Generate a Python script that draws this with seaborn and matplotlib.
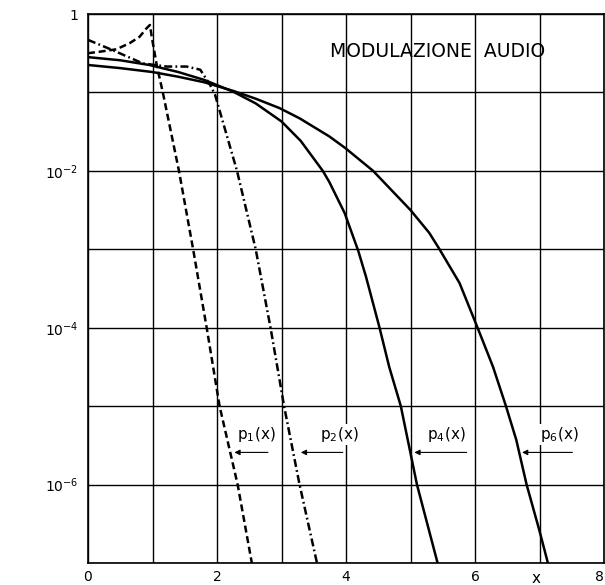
import numpy as np
import pandas as pd
import matplotlib
matplotlib.use("Agg")
import matplotlib.pyplot as plt
import seaborn as sns

# ---- data (y given as log10 exponents) ----
p1_x = [0.0, 0.19, 0.44, 0.65, 0.80, 0.91, 0.96, 0.99, 1.07, 1.16, 1.41, 1.63, 1.84, 2.04, 2.32, 2.54]
p1_e = [-0.50, -0.48, -0.45, -0.37, -0.29, -0.18, -0.14, -0.30, -0.67, -1.0, -2.0, -3.0, -4.0, -5.0, -6.0, -7.0]

p2_x = [0.0, 0.38, 0.85, 1.22, 1.53, 1.74, 1.89, 1.97, 2.31, 2.60, 2.83, 3.04, 3.28, 3.55]
p2_e = [-0.33, -0.46, -0.63, -0.67, -0.67, -0.71, -0.90, -1.03, -2.0, -3.0, -4.0, -5.0, -6.0, -7.0]

p4_x = [0.0, 0.5, 0.95, 1.4, 1.8, 2.25, 2.6, 3.0, 3.3, 3.64, 3.74, 3.98, 4.19, 4.31, 4.52, 4.67, 4.85, 5.10, 5.42]
p4_e = [-0.55, -0.59, -0.65, -0.74, -0.84, -0.99, -1.14, -1.37, -1.62, -2.0, -2.14, -2.54, -3.02, -3.35, -4.0, -4.5, -5.0, -6.0, -7.0]

p6_x = [0.0, 0.5, 1.0, 1.4, 1.8, 2.25, 2.6, 2.97, 3.28, 3.74, 3.99, 4.42, 5.0, 5.29, 5.45, 5.76, 6.04, 6.28, 6.48, 6.64, 6.80, 7.0, 7.13]
p6_e = [-0.65, -0.69, -0.74, -0.80, -0.87, -0.98, -1.08, -1.20, -1.33, -1.56, -1.71, -2.0, -2.5, -2.79, -3.0, -3.43, -4.0, -4.5, -5.0, -5.43, -6.0, -6.59, -7.0]

curve_labels = ["p$_1$(x)", "p$_2$(x)", "p$_4$(x)", "p$_6$(x)"]
label_x = [2.31, 3.59, 5.26, 7.0]
arrow_from = [2.79, 3.95, 5.87, 7.51]
arrow_to = [2.27, 3.30, 5.06, 6.73]

y_tick_vals = [1e0, 1e-1, 1e-2, 1e-3, 1e-4, 1e-5, 1e-6, 1e-7]
y_tick_labels = ["1", "", "$10^{-2}$", "", "$10^{-4}$", "", "$10^{-6}$", ""]
x_tick_vals = [0, 1, 2, 3, 4, 5, 6, 7, 8]
x_tick_labels = ["0", "", "2", "", "4", "", "6", "", "8"]
title_text = "MODULAZIONE  AUDIO"

sns.set_style("white")
plt.rcParams["font.family"] = ["DejaVu Sans"]
plt.rcParams["mathtext.default"] = "regular"
plt.rcParams["text.color"] = "black"

fig = plt.figure(figsize=(6.05, 5.85), dpi=100)
W, H = 605, 585
ax = fig.add_axes([88 / W, 22 / H, 516 / W, 549 / H])

def draw(xs, es, dashes):
    df = pd.DataFrame({"x": xs, "y": [10.0 ** e for e in es]})
    sns.lineplot(data=df, x="x", y="y", ax=ax, color="black", lw=1.8,
                 estimator=None, sort=False)
    line = ax.lines[-1]
    if dashes is not None:
        line.set_dashes(dashes)
    line.set_solid_joinstyle("round")

draw(p1_x, p1_e, (2.8, 1.5))
draw(p2_x, p2_e, (3.2, 1.3, 0.7, 1.3))
draw(p4_x, p4_e, None)
draw(p6_x, p6_e, None)

ax.set_yscale("log")
ax.set_xlim(0, 8)
ax.set_ylim(1e-7, 1)
ax.set_xticks(x_tick_vals)
ax.set_xticklabels(x_tick_labels)
ax.set_yticks(y_tick_vals)
ax.set_yticklabels(y_tick_labels)
ax.minorticks_off()
ax.tick_params(length=0, labelsize=10, colors="black")
ax.tick_params(axis="y", pad=7)
ax.tick_params(axis="x", pad=5)
ax.get_xticklabels()[-1].set_horizontalalignment("right")
ax.grid(True, color="black", lw=1.0)
for s in ax.spines.values():
    s.set_color("black")
    s.set_linewidth(1.2)
ax.set_xlabel("")
ax.set_ylabel("")

ax.text(6.95, -0.036, "x", transform=ax.get_xaxis_transform(), ha="center",
        va="baseline", fontsize=11)

ax.text(5.42, 10 ** -0.48, title_text, ha="center", va="center", fontsize=13.5)

y_lab = 10 ** -5.36
y_arr = 10 ** -5.59
for lab, lx, a0, a1 in zip(curve_labels, label_x, arrow_from, arrow_to):
    ax.text(lx, y_lab, lab, ha="left", va="center", fontsize=11,
            bbox=dict(facecolor="white", edgecolor="none", pad=0.5))
    ax.annotate("", xy=(a1, y_arr), xytext=(a0, y_arr),
                arrowprops=dict(arrowstyle="-|>", color="black", lw=0.8,
                                mutation_scale=8, shrinkA=0, shrinkB=0))

fig.savefig("out.png", dpi=100)
